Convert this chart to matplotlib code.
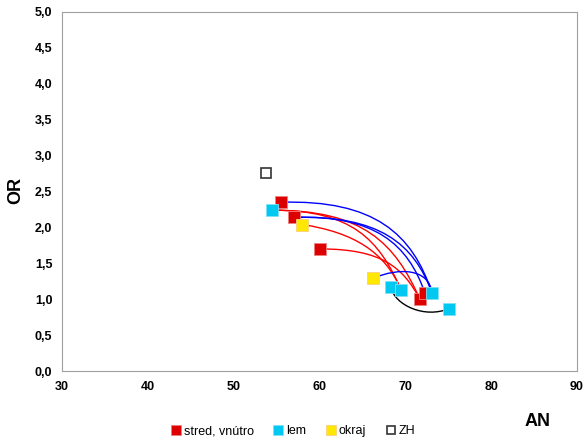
import matplotlib
matplotlib.use('Agg')
import matplotlib.pyplot as plt
from matplotlib.path import Path
from matplotlib.patches import PathPatch

plt.rcParams['font.family'] = ['Liberation Sans', 'DejaVu Sans']

# body (AN, OR)
stred_x = [55.5, 57.0, 60.1, 71.7, 72.3]
stred_y = [2.35, 2.14, 1.70, 1.00, 1.08]
lem_x = [54.5, 68.3, 69.5, 73.1, 75.1]
lem_y = [2.24, 1.17, 1.13, 1.09, 0.87]
okraj_x = [58.0, 66.2]
okraj_y = [2.04, 1.29]
zh_x = [53.8]
zh_y = [2.76]

# spojnice: (x0, y0, x1, y1)
red_links = [(54.5, 2.24, 71.7, 1.00), (54.5, 2.24, 69.5, 1.13),
             (60.1, 1.70, 71.7, 1.00)]
red_okraj = [(58.0, 2.04, 69.5, 1.13)]
blue_links = [(55.5, 2.35, 73.1, 1.09), (57.0, 2.14, 72.3, 1.08),
              (57.0, 2.14, 73.1, 1.09)]
blue_short = [(66.2, 1.29, 73.1, 1.09)]
black_links = [(68.3, 1.17, 75.1, 0.87)]

xticks = [30, 40, 50, 60, 70, 80, 90]
yticks = [0, 0.5, 1, 1.5, 2, 2.5, 3, 3.5, 4, 4.5, 5]

fig = plt.figure(figsize=(5.85, 4.41), dpi=100)
ax = fig.add_axes([62/585, 1-371/441, 515/585, 359/441])


def spoj(l, col, c1, c2):
    x0, y0, x1, y1 = l
    dx, dy = x1 - x0, y1 - y0
    verts = [(x0, y0),
             (x0 + c1[0]*dx, y0 + c1[1]*dy),
             (x0 + c2[0]*dx, y0 + c2[1]*dy),
             (x1, y1)]
    p = Path(verts, [Path.MOVETO, Path.CURVE4, Path.CURVE4, Path.CURVE4])
    ax.add_patch(PathPatch(p, fc='none', ec=col, lw=1.0, zorder=2))


for l in red_links:
    spoj(l, '#ff0000', (0.62, 0.0), (0.83, 0.37))
for l in red_okraj:
    spoj(l, '#ff0000', (0.52, 0.12), (0.84, 0.42))
for l in blue_links:
    spoj(l, '#0000ff', (0.62, -0.03), (0.87, 0.35))
for l in blue_short:
    spoj(l, '#0000ff', (0.46, -0.8), (0.95, -0.67))
for l in black_links:
    spoj(l, '#000000', (0.07, 0.86), (0.59, 1.48))

ax.plot(stred_x, stred_y, 's', color='#dd0000', mec='#f08080', mew=0.6, ms=8, ls='none', zorder=3, label='stred, vnútro')
ax.plot(lem_x, lem_y, 's', color='#00c8f0', mec='#80e0f8', mew=0.6, ms=8, ls='none', zorder=3, label='lem')
ax.plot(okraj_x, okraj_y, 's', color='#ffe800', mec='#f8d080', mew=0.6, ms=8, ls='none', zorder=3, label='okraj')
ax.plot(zh_x, zh_y, 's', color='white', mec='#333333', mew=1.2, ms=7, ls='none', zorder=3, label='ZH')

ax.set_xlim(30, 90)
ax.set_ylim(0, 5)
ax.set_xticks(xticks)
ax.set_yticks(yticks)
ax.set_xticklabels([str(t) for t in xticks], fontsize=9, fontweight='bold')
ax.set_yticklabels([('%.1f' % t).replace('.', ',') for t in yticks], fontsize=9, fontweight='bold')
ax.tick_params(length=0, pad=7)
for s in ax.spines.values():
    s.set_color('#a0a0a0')

fig.text(16/585, 1-190/441, 'OR', rotation=90, fontsize=13, fontweight='bold', ha='center', va='center')
fig.text(538/585, 1-421/441, 'AN', fontsize=13, fontweight='bold', ha='center', va='center')

fig.legend(loc='center left', bbox_to_anchor=(160/585, 1-431/441), ncol=4, frameon=False,
           fontsize=9, markerscale=0.85, handlelength=0.7, handletextpad=0.3, columnspacing=1.6)

plt.savefig('out.png', dpi=100)
